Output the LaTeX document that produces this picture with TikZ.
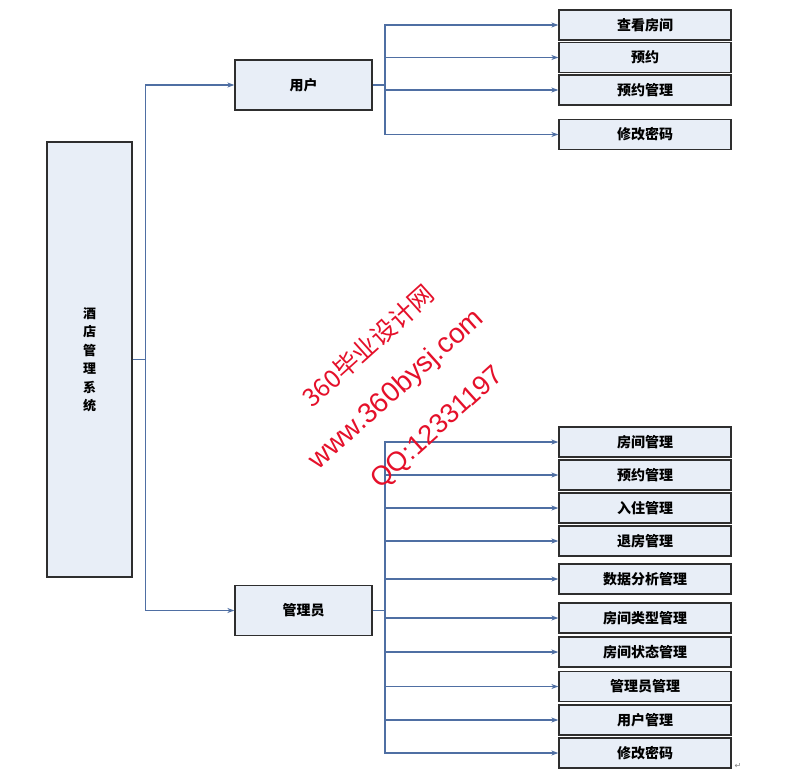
\documentclass[tikz,border=0pt]{standalone}
\usepackage{fontspec}
\setmainfont{Noto Sans CJK SC}
\newfontfamily\latinwm{Liberation Sans}
\newfontfamily\symfont{DejaVu Sans}
\usetikzlibrary{arrows.meta}
\definecolor{boxfill}{HTML}{E8EEF7}
\definecolor{boxline}{HTML}{2E2E2E}
\definecolor{conn}{HTML}{4F6FA3}
\definecolor{wmred}{HTML}{E5102A}
\tikzset{
  box/.style={draw=boxline, line width=1.3pt, fill=boxfill, inner sep=0pt,
    font=\fontsize{14}{16}\selectfont\bfseries, text=black},
  leaf/.style={box, minimum width=172pt, minimum height=30pt},
  mid/.style={box, minimum width=137pt, minimum height=50pt},
  link/.style={draw=conn, line width=1.2pt},
  arr/.style={link, -{Stealth[length=7pt,width=5pt]}},
  wm/.style={text=wmred, rotate=42, inner sep=0pt}
}
\begin{document}
\begin{tikzpicture}[x=1pt,y=-1pt]
\useasboundingbox[fill=white] (0,0) rectangle (801,774);
% root
\node[box, minimum width=85pt, minimum height=435pt, align=center,
  font=\fontsize{13}{18.5}\selectfont\bfseries] (root) at (89.5,359.5)
  {酒\\店\\管\\理\\系\\统};
% middle
\node[mid] (user) at (303.5,85) {用户};
\node[mid] (admin) at (303.5,610.5) {管理员};
% user leaves
\node[leaf] (u1) at (645,25) {查看房间};
\node[leaf] (u2) at (645,57.5) {预约};
\node[leaf] (u3) at (645,90) {预约管理};
\node[leaf] (u4) at (645,134.5) {修改密码};
% admin leaves
\node[leaf] (a1) at (645,442) {房间管理};
\node[leaf] (a2) at (645,475) {预约管理};
\node[leaf] (a3) at (645,508) {入住管理};
\node[leaf] (a4) at (645,541) {退房管理};
\node[leaf] (a5) at (645,579) {数据分析管理};
\node[leaf] (a6) at (645,618) {房间类型管理};
\node[leaf] (a7) at (645,652) {房间状态管理};
\node[leaf] (a8) at (645,686.5) {管理员管理};
\node[leaf] (a9) at (645,720) {用户管理};
\node[leaf] (a10) at (645,753) {修改密码};
% buses
\coordinate (rb) at (145.5,359.5);
\coordinate (ub) at (385,85);
\coordinate (ab) at (385,610.5);
\draw[link] (root.east) -- (rb);
\draw[arr] (rb) |- (user.west);
\draw[arr] (rb) |- (admin.west);
\draw[link] (user.east) -- (ub);
\foreach \c in {u1,u2,u3,u4}{\draw[arr] (ub) |- (\c.west);}
\draw[link] (admin.east) -- (ab);
\foreach \c in {a1,a2,a3,a4,a5,a6,a7,a8,a9,a10}{\draw[arr] (ab) |- (\c.west);}
% watermark
\node[wm, font=\fontsize{25}{25}\selectfont] (wm1) at (368,346) {360毕业设计网};
\node[wm, font=\latinwm\fontsize{28}{28}\selectfont] (wm2) at (397,390) {www.360bysj.com};
\node[wm, font=\latinwm\fontsize{27}{27}\selectfont] (wm3) at (438,428) {QQ:12331197};
% paragraph mark
\node[text=gray, font=\symfont\fontsize{8}{8}\selectfont, inner sep=0pt] (pm) at (738,766) {↵};
\end{tikzpicture}
\end{document}
